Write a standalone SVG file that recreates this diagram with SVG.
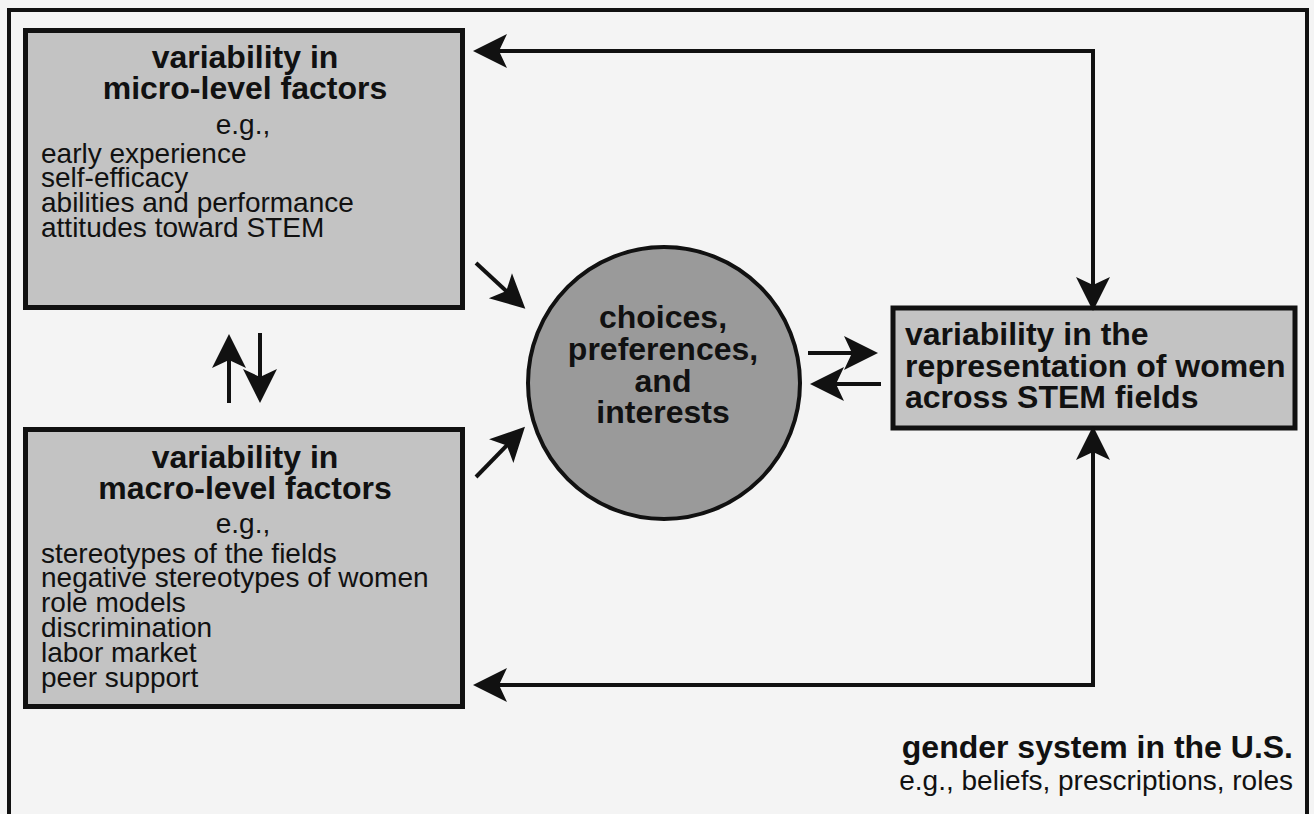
<svg xmlns="http://www.w3.org/2000/svg" width="1314" height="814" viewBox="0 0 1314 814">
<style>
.box{fill:#c3c3c3;stroke:#111;stroke-width:5}
.circ{fill:#9a9a9a;stroke:#111;stroke-width:4}
.b{font-family:"Liberation Sans",Arial,sans-serif;font-weight:bold;font-size:32px;fill:#111}
.r{font-family:"Liberation Sans",Arial,sans-serif;font-size:28px;fill:#111}
.c{text-anchor:middle}
.e{text-anchor:end}
.ln{fill:none;stroke:#111;stroke-width:4;marker-end:url(#ah)}
</style>
<defs>
<marker id="ah" markerUnits="userSpaceOnUse" markerWidth="34" markerHeight="36" refX="24" refY="18" orient="auto" overflow="visible">
<path d="M0,1 L34,18 L0,35 L8,18 Z" fill="#111"/>
</marker>
<marker id="ahs" markerUnits="userSpaceOnUse" markerWidth="34" markerHeight="36" refX="10" refY="18" orient="auto-start-reverse" overflow="visible">
<path d="M0,1 L34,18 L0,35 L8,18 Z" fill="#111"/>
</marker>
</defs>
<rect width="1314" height="814" fill="#f4f4f4"/>
<rect x="9" y="10" width="1298" height="820" fill="none" stroke="#111" stroke-width="4"/>

<g id="micro">
<rect class="box" x="25.5" y="30.5" width="437" height="277"/>
<text class="b c" x="245" y="68">variability in</text>
<text class="b c" x="245" y="99">micro-level factors</text>
<text class="r c" x="243" y="134">e.g.,</text>
<text class="r" x="41" y="163">early experience</text>
<text class="r" x="41" y="187">self-efficacy</text>
<text class="r" x="41" y="212">abilities and performance</text>
<text class="r" x="41" y="237">attitudes toward STEM</text>
</g>

<g id="macro">
<rect class="box" x="25.5" y="429.5" width="437" height="277"/>
<text class="b c" x="245" y="468">variability in</text>
<text class="b c" x="245" y="499">macro-level factors</text>
<text class="r c" x="243" y="533">e.g.,</text>
<text class="r" x="41" y="563">stereotypes of the fields</text>
<text class="r" x="41" y="587">negative stereotypes of women</text>
<text class="r" x="41" y="612">role models</text>
<text class="r" x="41" y="637">discrimination</text>
<text class="r" x="41" y="662">labor market</text>
<text class="r" x="41" y="687">peer support</text>
</g>

<g id="choices">
<circle class="circ" cx="664" cy="383" r="136"/>
<text class="b c" x="663" y="328">choices,</text>
<text class="b c" x="663" y="360">preferences,</text>
<text class="b c" x="663" y="392">and</text>
<text class="b c" x="663" y="423">interests</text>
</g>

<g id="representation">
<rect class="box" x="893" y="308" width="402" height="120" stroke-width="4"/>
<text class="b" x="905" y="345">variability in the</text>
<text class="b" x="905" y="377">representation of women</text>
<text class="b" x="905" y="408">across STEM fields</text>
</g>

<g id="gender-system">
<text class="b e" x="1293" y="758">gender system in the U.S.</text>
<text class="r e" x="1293" y="790">e.g., beliefs, prescriptions, roles</text>
</g>

<g id="connectors">
<path class="ln" d="M1093,287 L1093,51 L483,51" marker-start="url(#ahs)"/>
<path class="ln" d="M1093,450 L1093,685 L483,685" marker-start="url(#ahs)"/>
<path class="ln" d="M476,263 L518,302"/>
<path class="ln" d="M476,477 L518,434"/>
<path class="ln" d="M808,353 L868,353"/>
<path class="ln" d="M881,384 L820,384"/>
<path class="ln" d="M229,403 L229,344"/>
<path class="ln" d="M260,333 L260,393"/>
</g>
</svg>
